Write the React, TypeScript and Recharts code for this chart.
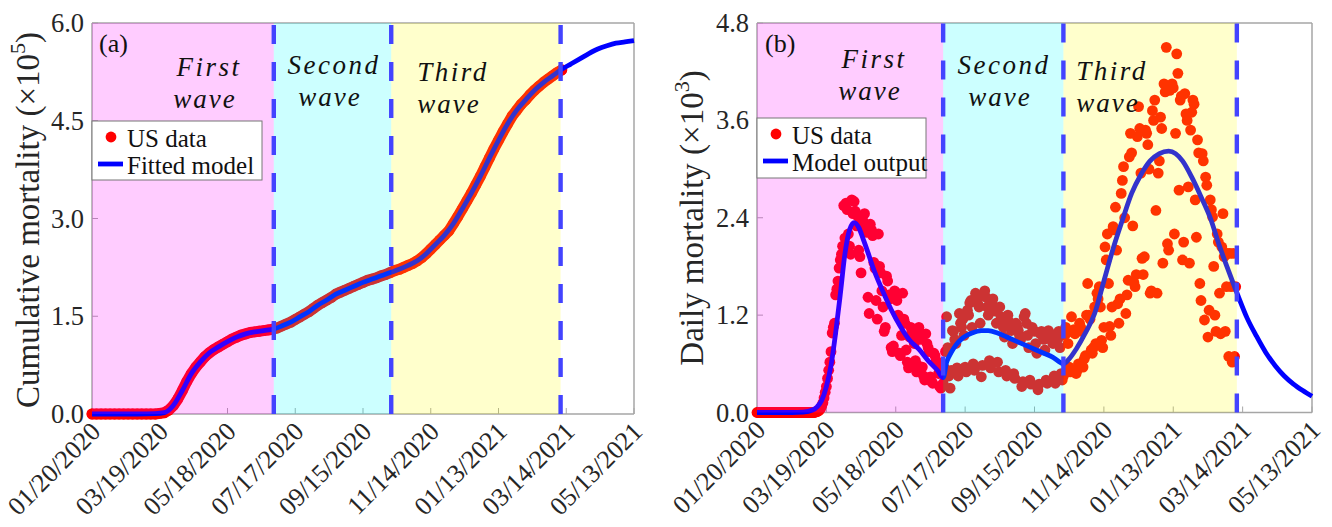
import React from 'react';
import { ComposedChart, Scatter, Line, XAxis, YAxis, ReferenceArea, ReferenceLine } from 'recharts';

const FONT = '"Liberation Serif", "Times New Roman", serif';
const AX = '#a6a6a6';
const TXT = '#262626';

// ---------- shared axis data ----------
const xTicks = [0, 60, 120, 180, 240, 300, 360, 420, 480];
const xTickLabels = ['01/20/2020', '03/19/2020', '05/18/2020', '07/17/2020', '09/15/2020', '11/14/2020', '01/13/2021', '03/14/2021', '05/13/2021'];
const cumTicks = [0, 1.5, 3, 4.5, 6];
const dailyTicks = [0, 1.2, 2.4, 3.6, 4.8];
const waveBounds = [0, 161, 265, 415];
const waveColors = ['#ff00ff', '#00ffff', '#ffff00'];
const waveNames = ['First', 'Second', 'Third'];

// ---------- panel (a): cumulative mortality (x10^5), one value every 4 days from day 0 ----------
const cumStep = 4;
const cumulativeDeaths = [
  0, 0, 0, 0, 0, 0, 0, 0, 0, 0, 0, 0, 0, 0, 0, 0.01,
  0.02, 0.06, 0.13, 0.23, 0.36, 0.50, 0.62, 0.72, 0.80, 0.88, 0.94, 0.99, 1.03, 1.07, 1.11, 1.15,
  1.18, 1.21, 1.23, 1.25, 1.26, 1.27, 1.28, 1.29, 1.30, 1.32, 1.35, 1.38, 1.41, 1.45, 1.49, 1.53,
  1.57, 1.62, 1.67, 1.71, 1.75, 1.79, 1.84, 1.87, 1.90, 1.93, 1.96, 1.99, 2.02, 2.05, 2.07, 2.09,
  2.12, 2.14, 2.17, 2.20, 2.22, 2.25, 2.28, 2.31, 2.35, 2.40, 2.46, 2.53, 2.60, 2.67, 2.74, 2.81,
  2.92, 3.03, 3.15, 3.27, 3.39, 3.52, 3.65, 3.79, 3.93, 4.07, 4.20, 4.33, 4.45, 4.57, 4.66, 4.75,
  4.82, 4.90, 4.97, 5.03, 5.09, 5.14, 5.19, 5.24, 5.28,
];
const fittedDays = [0, 40, 56, 64, 72, 80, 88, 96, 104, 112, 120, 128, 136, 144, 152, 161, 168, 176, 184, 192, 200, 208, 216, 224, 232, 240, 248, 256, 265, 272, 280, 288, 296, 304, 312, 320, 328, 336, 344, 352, 360, 368, 376, 384, 392, 400, 408, 416, 424, 432, 440, 448, 456, 464, 472, 480];
const fittedValues = [0, 0, 0.005, 0.02, 0.13, 0.36, 0.62, 0.80, 0.94, 1.03, 1.11, 1.18, 1.23, 1.26, 1.28, 1.305, 1.35, 1.41, 1.49, 1.57, 1.67, 1.75, 1.84, 1.90, 1.96, 2.02, 2.07, 2.12, 2.175, 2.22, 2.28, 2.35, 2.46, 2.60, 2.74, 2.92, 3.15, 3.39, 3.65, 3.93, 4.20, 4.45, 4.66, 4.82, 4.97, 5.09, 5.19, 5.29, 5.37, 5.45, 5.53, 5.60, 5.65, 5.69, 5.71, 5.73];

// ---------- panel (b): daily mortality (x10^3), one value per day from day 0 ----------
const dailyDeaths = [
  0, 0, 0, 0, 0, 0, 0,
  0, 0, 0, 0, 0, 0, 0,
  0, 0, 0, 0, 0, 0, 0,
  0, 0, 0, 0, 0, 0, 0,
  0, 0, 0, 0, 0, 0, 0,
  0, 0, 0, 0, 0, 0, 0,
  0, 0, 0, 0, 0, 0, 0,
  0, 0, 0.01, 0.01, 0.02, 0.03, 0.05,
  0.08, 0.12, 0.18, 0.25, 0.32, 0.42, 0.52,
  0.62, 0.75, 0.98, 1.05, 1.10, 1.45, 1.52,
  1.62, 1.78, 1.88, 1.95, 2.05, 2.55, 2.15,
  2.58, 2.50, 2.20, 2.05, 1.95, 2.62, 2.45,
  2.60, 2.48, 2.30, 2.42, 2.00, 1.92, 1.72,
  2.38, 2.35, 2.45, 2.28, 2.22, 1.42, 1.22,
  2.32, 2.25, 2.18, 1.85, 1.78, 1.38, 1.15,
  2.20, 1.80, 1.72, 1.50, 1.30, 1.00, 1.05,
  1.68, 1.62, 1.45, 1.40, 0.80, 0.75, 0.82,
  1.50, 1.48, 1.38, 1.20, 0.73, 0.70, 0.95,
  1.47, 1.15, 1.10, 0.77, 0.62, 0.55, 0.93,
  1.05, 1.00, 0.95, 0.85, 0.64, 0.50, 0.58,
  1.05, 0.98, 0.90, 0.56, 0.45, 0.40, 0.97,
  0.85, 0.80, 0.75, 0.44, 0.38, 0.36, 0.73,
  0.70, 0.64, 0.60, 0.48, 0.32, 0.30, 0.55,
  0.36, 0.55, 0.75, 1.18, 0.80, 0.45, 0.30,
  0.52, 1.01, 1.00, 0.90, 0.85, 0.55, 0.45,
  1.22, 1.10, 1.05, 1.15, 0.95, 0.56, 0.50,
  1.26, 1.20, 1.35, 1.38, 1.05, 0.60, 0.52,
  1.47, 1.40, 1.34, 1.30, 1.10, 0.44, 0.58,
  1.45, 1.50, 1.42, 1.30, 1.20, 0.64, 0.55,
  1.36, 1.40, 1.26, 1.25, 1.10, 0.62, 0.50,
  1.30, 1.18, 1.15, 1.05, 0.93, 0.52, 0.45,
  1.20, 1.12, 1.08, 1.01, 0.85, 0.48, 0.42,
  1.10, 1.05, 1.01, 0.95, 0.90, 0.32, 0.38,
  1.18, 1.22, 1.10, 0.95, 0.80, 0.40, 0.35,
  1.05, 1.01, 1.00, 0.85, 0.73, 0.28, 0.35,
  0.97, 1.00, 0.95, 0.90, 0.77, 0.40, 0.36,
  1.01, 0.95, 0.92, 0.88, 0.85, 0.45, 0.36,
  0.97, 0.90, 1.00, 0.80, 0.48, 0.40,
  0.45, 0.95, 1.05, 0.98, 0.85, 0.56, 0.50,
  1.18, 1.00, 1.02, 0.97, 0.48, 0.52, 0.60,
  1.10, 1.05, 1.00, 0.56, 0.66, 0.70, 1.20,
  1.59, 1.20, 1.15, 0.77, 0.73, 0.80, 1.30,
  0.85, 1.47, 1.40, 1.55, 1.30, 0.89, 0.80,
  1.05, 2.04, 1.88, 2.20, 1.59, 1.06, 0.95,
  1.30, 2.29, 2.25, 2.53, 2.00, 1.34, 1.10,
  1.40, 2.70, 2.86, 3.03, 2.40, 1.22, 1.45,
  1.63, 3.15, 3.44, 3.20, 2.30, 1.60, 1.55,
  1.70, 3.40, 3.77, 3.50, 2.95, 1.90, 1.70,
  1.92, 3.48, 3.44, 3.30, 3.00, 1.47, 1.50,
  3.72, 3.60, 3.85, 2.49, 1.47, 2.95, 3.10,
  3.64, 3.50, 1.84, 4.05, 3.95, 4.50, 2.08,
  2.00, 3.97, 4.00, 4.05, 4.00, 2.20, 3.44,
  4.42, 4.18, 2.74, 3.85, 3.90, 1.88, 2.10,
  3.93, 3.68, 3.60, 2.78, 1.84, 3.48, 3.70,
  3.85, 3.80, 2.62, 2.16, 3.36, 3.20, 1.59,
  1.38, 3.19, 3.10, 1.14, 2.90, 2.80, 0.93,
  1.26, 2.62, 2.50, 2.41, 1.80, 1.20, 1.00,
  2.20, 2.10, 1.47, 0.97, 2.04, 2.45, 1.92,
  1.00, 1.55, 1.96, 0.69, 1.96, 1.55, 0.62,
  1.96, 0.69, 1.55,
];
const modelDays = [0, 30, 40, 48, 52, 56, 60, 64, 68, 72, 76, 80, 84, 88, 92, 96, 100, 108, 116, 124, 132, 140, 148, 156, 161, 164, 168, 172, 178, 186, 194, 200, 208, 216, 224, 232, 240, 248, 256, 265, 270, 276, 284, 292, 300, 308, 316, 324, 332, 340, 348, 356, 362, 368, 376, 384, 392, 400, 408, 416, 424, 432, 440, 448, 456, 464, 472, 480];
const modelValues = [0, 0, 0.005, 0.03, 0.07, 0.15, 0.32, 0.58, 0.98, 1.45, 1.95, 2.25, 2.34, 2.28, 2.13, 1.97, 1.80, 1.52, 1.27, 1.06, 0.89, 0.78, 0.64, 0.52, 0.43, 0.62, 0.74, 0.83, 0.92, 0.98, 1.01, 1.01, 0.98, 0.93, 0.88, 0.83, 0.78, 0.73, 0.68, 0.60, 0.66, 0.78, 0.98, 1.22, 1.62, 2.02, 2.37, 2.70, 2.93, 3.10, 3.19, 3.22, 3.19, 3.10, 2.90, 2.66, 2.40, 2.05, 1.74, 1.44, 1.16, 0.94, 0.74, 0.58, 0.45, 0.35, 0.27, 0.20];

const cumData = cumulativeDeaths.map((v, i) => ({ d: i * cumStep, v }));
const fittedData = fittedDays.map((d, i) => ({ d, v: fittedValues[i] }));
const dailyData = dailyDeaths.map((v, i) => ({ d: i, v }));
const modelData = modelDays.map((d, i) => ({ d, v: modelValues[i] }));

// ---------- helpers ----------
const EmptyTick = () => <g />;

function makeXTick(bottom: number) {
  return (props: any) => {
    const { x, payload } = props;
    const i = xTicks.indexOf(payload.value);
    const ax = x + 10;
    const ay = bottom + 19;
    return (
      <text x={ax} y={ay} transform={`rotate(-45 ${ax} ${ay})`} textAnchor="end" fontFamily={FONT} fontSize={26} fill={TXT}>
        {xTickLabels[i]}
      </text>
    );
  };
}

function makeYTick(left: number) {
  return (props: any) => {
    const { y, payload } = props;
    return (
      <text x={left - 8} y={y} dy={9} textAnchor="end" fontFamily={FONT} fontSize={26.5} fill={TXT}>
        {Number(payload.value).toFixed(1)}
      </text>
    );
  };
}

const Dot = (p: any) => <circle cx={p.cx} cy={p.cy} r={5.4} fill="#ff0000" />;

type PanelProps = {
  width: number;
  margin: { top: number; right: number; bottom: number; left: number };
  plotLeft: number;
  plotBottom: number;
  yMax: number;
  yTicks: number[];
  dots: { d: number; v: number }[];
  model: { d: number; v: number }[];
  joinDots: boolean;
};

function Panel({ width, margin, plotLeft, plotBottom, yMax, yTicks, dots, model, joinDots }: PanelProps) {
  return (
    <ComposedChart width={width} height={527} margin={margin} style={{ overflow: 'visible' }}>
      <XAxis xAxisId={0} type="number" dataKey="d" domain={[0, 480]} ticks={xTicks} interval={0} height={1}
        tickSize={-6} tickLine={{ stroke: AX }} axisLine={{ stroke: AX, strokeWidth: 1.5 }} tick={makeXTick(plotBottom)} />
      <XAxis xAxisId="top" orientation="top" type="number" dataKey="d" domain={[0, 480]} ticks={xTicks} interval={0} height={1}
        tickSize={-6} tickLine={{ stroke: AX }} axisLine={{ stroke: AX, strokeWidth: 1.5 }} tick={EmptyTick} />
      <YAxis yAxisId={0} type="number" domain={[0, yMax]} ticks={yTicks} interval={0} width={1}
        tickSize={-6} tickLine={{ stroke: AX }} axisLine={{ stroke: AX, strokeWidth: 1.5 }} tick={makeYTick(plotLeft)} />
      <YAxis yAxisId="right" orientation="right" type="number" domain={[0, yMax]} ticks={yTicks} interval={0} width={1}
        tickSize={-6} tickLine={{ stroke: AX }} axisLine={{ stroke: AX, strokeWidth: 1.5 }} tick={EmptyTick} />
      <Scatter data={dots} dataKey="v" shape={Dot} isAnimationActive={false}
        fill="#ff0000" line={joinDots ? { stroke: '#ff0000', strokeWidth: 11, strokeLinejoin: 'round', strokeLinecap: 'round' } : false} />
      <Line data={model} dataKey="v" type="monotone" stroke="#0000ff" strokeWidth={4.8} dot={false} activeDot={false}
        isAnimationActive={false} zIndex={620} />
      {waveColors.map((c, i) => (
        <ReferenceArea key={`a${i}`} x1={waveBounds[i]} x2={waveBounds[i + 1]} y1={0} y2={yMax}
          fill={c} fillOpacity={0.2} stroke="none" ifOverflow="visible" zIndex={650} />
      ))}
      {waveBounds.slice(1).map((b, i) => (
        <ReferenceLine key={`l${i}`} x={b} stroke="#4343ff" strokeWidth={4.4} strokeDasharray="19 18" zIndex={700} />
      ))}
    </ComposedChart>
  );
}

function WaveLabels({ items }: { items: { x: number; y: number; name: string }[] }) {
  return (
    <>
      {items.map((it, i) => (
        <g key={i}>
          <text x={it.x} y={it.y} textAnchor="middle" fontFamily={FONT} fontStyle="italic" fontSize={27} letterSpacing={2.5} fill="#111">{it.name}</text>
          <text x={it.x - 4} y={it.y + 32} textAnchor="middle" fontFamily={FONT} fontStyle="italic" fontSize={27} letterSpacing={2} fill="#111">wave</text>
        </g>
      ))}
    </>
  );
}

function LegendBox({ x, y, w, h, label2 }: { x: number; y: number; w: number; h: number; label2: string }) {
  return (
    <g>
      <rect x={x} y={y} width={w} height={h} fill="#ffffff" stroke="#777" strokeWidth={1} />
      <circle cx={x + 19} cy={y + 16} r={5.4} fill="#ff0000" />
      <text x={x + 35} y={y + 26} fontFamily={FONT} fontSize={25} fill="#111">US data</text>
      <line x1={x + 6} x2={x + 31} y1={y + 43} y2={y + 43} stroke="#0000ff" strokeWidth={4.8} />
      <text x={x + 35} y={y + 53} fontFamily={FONT} fontSize={25} fill="#111">{label2}</text>
    </g>
  );
}

export default function App() {
  return (
    <div style={{ position: 'absolute', left: 0, top: 0, width: 1332, height: 527, background: '#ffffff', overflow: 'hidden' }}>
      <div style={{ position: 'absolute', left: 0, top: 0 }}>
        <Panel width={666} margin={{ top: 22, right: 31, bottom: 112, left: 91 }} plotLeft={92} plotBottom={414}
          yMax={6} yTicks={cumTicks} dots={cumData} model={fittedData} joinDots={true} />
      </div>
      <div style={{ position: 'absolute', left: 666, top: 0 }}>
        <Panel width={666} margin={{ top: 22, right: 19, bottom: 113.5, left: 90 }} plotLeft={91} plotBottom={412.5}
          yMax={4.8} yTicks={dailyTicks} dots={dailyData} model={modelData} joinDots={false} />
      </div>
      <svg width={1332} height={527} style={{ position: 'absolute', left: 0, top: 0, pointerEvents: 'none' }}>
        <text transform="translate(39,220) rotate(-90)" textAnchor="middle" fontFamily={FONT} fontSize={33} fill={TXT}>
          Cumulative mortality (×10<tspan dy={-14} fontSize={22}>5</tspan><tspan dy={14}>)</tspan>
        </text>
        <text transform="translate(703,218) rotate(-90)" textAnchor="middle" fontFamily={FONT} fontSize={33} fill={TXT}>
          Daily mortality (×10<tspan dy={-14} fontSize={22}>3</tspan><tspan dy={14}>)</tspan>
        </text>
        <text x={99} y={52} fontFamily={FONT} fontSize={26} fill="#111">(a)</text>
        <text x={765} y={52} fontFamily={FONT} fontSize={26} fill="#111">(b)</text>
        <WaveLabels items={[
          { x: 209, y: 76, name: waveNames[0] },
          { x: 334, y: 74, name: waveNames[1] },
          { x: 453, y: 81, name: waveNames[2] },
          { x: 874, y: 68, name: waveNames[0] },
          { x: 1004, y: 74, name: waveNames[1] },
          { x: 1112, y: 80, name: waveNames[2] },
        ]} />
        <LegendBox x={92} y={121} w={170} h={59} label2="Fitted model" />
        <LegendBox x={757} y={118} w={169} h={60} label2="Model output" />
      </svg>
    </div>
  );
}
